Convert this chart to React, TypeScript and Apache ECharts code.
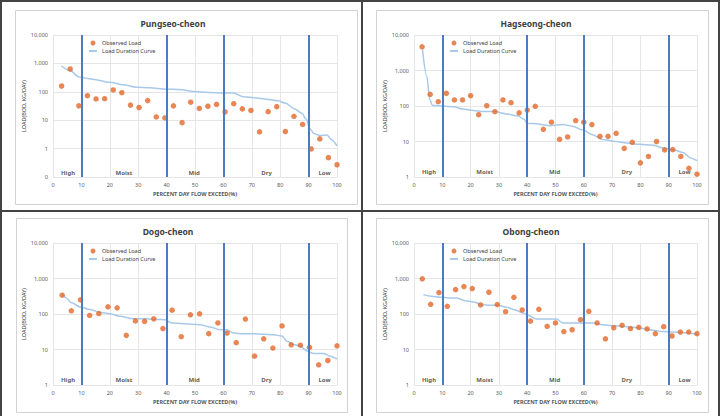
import React, { useEffect, useRef } from "react";
import * as echarts from "echarts";

// Station names, one panel each
const stations = ["Pungseo-cheon", "Hagseong-cheon", "Dogo-cheon", "Obong-cheon"];

// Flow-regime boundaries (percent of days flow exceeded) and regime labels
const flowBreaks = [10, 40, 60, 90];
const zoneNames = ["High", "Moist", "Mid", "Dry", "Low"];
const zoneCenters = [5.3, 25, 49.7, 75.2, 95.6];

// Observed BOD loads (kg/day), ranked by flow exceedance
const pungseoObserved = [160, 635, 32, 73, 56, 57, 116, 93, 34, 28, 49, 13, 12, 32, 8.2, 43, 26, 31, 36, 19.5, 38, 25, 22, 3.9, 20, 30, 4.0, 13.7, 7.1, 0.97, 2.2, 0.48, 0.27];
const hagseongObserved = [4650, 213, 132, 227, 148, 148, 195, 57, 102, 69, 148, 124, 64, 77, 98, 22, 35, 11.5, 13.4, 39, 35, 30, 14, 14, 17, 6.4, 9.5, 2.5, 3.8, 10, 5.8, 5.9, 3.8, 1.75, 1.2];
const dogoObserved = [338, 123, 250, 91, 103, 159, 149, 25, 64, 62, 73, 39, 128, 23, 95, 101, 28, 56, 29, 15.5, 72, 6.5, 20, 11, 46, 13.6, 13.2, 11.5, 3.7, 4.9, 12.7];
const obongObserved = [980, 188, 402, 165, 488, 594, 521, 180, 410, 184, 116, 296, 130, 63, 136, 45, 56, 32, 36, 69, 119, 56, 20, 41, 48, 39, 42, 38, 28, 44, 24, 31, 31, 28];

// Load duration curves: [percent exceeded, load kg/day]
const pungseoCurve = [[3, 810], [6, 560], [9, 340], [10, 318], [14, 278], [20, 215], [24.7, 176], [29.4, 146], [34, 140], [40, 124], [44.7, 120], [49.4, 102], [55, 95], [60, 91], [63.5, 90], [67, 67], [71.7, 61], [75.2, 55], [79.3, 48], [81.7, 40], [85.2, 25], [87.6, 17.5], [89.1, 11], [90.5, 5], [92, 3.3], [94, 2.9], [96.5, 3.0], [98, 2.1], [100, 1.25]];
const hagseongCurve = [[3, 3860], [4.5, 700], [5.6, 150], [6.5, 104], [7.5, 104], [10.3, 100], [13.9, 95], [17.4, 82], [21, 75], [24.4, 70], [28.5, 70], [32.7, 60], [36.8, 52], [38.9, 42], [40, 32], [42, 32], [48, 28], [52.6, 30], [56, 27], [59.7, 21], [63, 15.6], [66.7, 11.3], [71.4, 10], [75, 9], [79.7, 8.3], [84.4, 7.9], [88, 6.6], [91.4, 5.9], [95, 4.9], [97.9, 3.4], [100, 2.9]];
const dogoCurve = [[3.3, 369], [4.7, 284], [6.5, 206], [9.8, 156], [12.9, 134], [16.5, 112], [20, 101], [23.5, 87], [28.2, 73], [33, 73], [36.5, 70], [39.4, 69], [41.8, 56], [45.9, 53], [51.8, 50], [55.3, 43], [58.8, 36], [61.2, 36], [63.5, 29], [65.9, 28], [70.6, 28], [74.1, 27], [77.6, 26], [80.6, 24], [82.4, 17], [84.7, 13.8], [87, 12.6], [89.4, 9], [91.8, 7.7], [95.3, 7.7], [97.6, 6.5], [100, 5.4]];
const obongCurve = [[3.3, 352], [6.2, 316], [9.2, 296], [12.7, 283], [15, 283], [18, 238], [21, 218], [23.9, 184], [26.8, 176], [29.7, 176], [32.7, 155], [35.6, 132], [38.5, 107], [40.3, 92], [43.2, 72], [46.2, 72], [50.3, 72], [52.6, 56], [56.2, 56], [59.7, 56], [63.2, 56], [66.7, 50], [70.2, 47], [73.8, 45], [77.3, 42], [80.8, 39], [84.4, 35], [87.9, 32], [91.4, 31], [95, 30], [100, 27]];

const FONT = "'Noto Sans', 'Open Sans', sans-serif";

const panels = [
  { title: stations[0], observed: pungseoObserved, curve: pungseoCurve, yMin: 0.1, grid: { left: 53, top: 35, width: 284, height: 142 }, box: [15, 10, 342, 194], titleAt: [173, 23], legendAt: [88, 40] },
  { title: stations[1], observed: hagseongObserved, curve: hagseongCurve, yMin: 1, grid: { left: 414, top: 35, width: 283, height: 142 }, box: [376, 10, 332, 194], titleAt: [536, 23], legendAt: [449, 40] },
  { title: stations[2], observed: dogoObserved, curve: dogoCurve, yMin: 1, grid: { left: 53, top: 243, width: 284, height: 142 }, box: [16, 218, 331, 194], titleAt: [168, 231], legendAt: [88, 248] },
  { title: stations[3], observed: obongObserved, curve: obongCurve, yMin: 1, grid: { left: 414, top: 243, width: 283, height: 142 }, box: [376, 218, 332, 194], titleAt: [531, 231], legendAt: [449, 248] },
];

function buildOption() {
  const series: any[] = [];
  panels.forEach((p, i) => {
    const n = p.observed.length;
    series.push({
      name: "Observed Load",
      type: "scatter",
      xAxisIndex: i,
      yAxisIndex: i,
      data: p.observed.map((v, k) => [(100 * (k + 1)) / n, v]),
      symbol: "circle",
      symbolSize: 5.5,
      itemStyle: { color: "#E2692A" },
      z: 4,
      markLine: {
        silent: true,
        symbol: "none",
        label: { show: false },
        lineStyle: { color: "#4A7CC0", width: 2, type: "solid" },
        data: flowBreaks.map((x) => ({ xAxis: x })),
      },
    });
    series.push({
      name: "Load Duration Curve",
      type: "line",
      xAxisIndex: i,
      yAxisIndex: i,
      data: p.curve,
      symbol: "none",
      smooth: 0.3,
      smoothMonotone: "x",
      lineStyle: { color: "#A8C9E9", width: 1.5 },
      z: 3,
    });
    series.push({
      name: "zones",
      type: "scatter",
      xAxisIndex: i,
      yAxisIndex: i,
      silent: true,
      symbolSize: 0,
      data: zoneCenters.map((x, k) => [x, p.yMin * 1.42, zoneNames[k]]),
      label: {
        show: true,
        position: "inside",
        formatter: (d: any) => d.value[2],
        fontSize: 6,
        fontWeight: "bold",
        color: "#333333",
        fontFamily: FONT,
      },
      z: 5,
    });
  });

  const graphic: any[] = [];
  panels.forEach((p) => {
    graphic.push({
      type: "rect",
      shape: { x: p.box[0] + 0.5, y: p.box[1] + 0.5, width: p.box[2], height: p.box[3] },
      style: { fill: "none", stroke: "#d2d2d2", lineWidth: 1 },
      silent: true,
    });
    graphic.push({
      type: "text",
      x: p.titleAt[0],
      y: p.titleAt[1],
      style: {
        text: p.title,
        textAlign: "center",
        textVerticalAlign: "middle",
        font: `bold 8.5px ${FONT}`,
        fill: "#404040",
      },
      silent: true,
    });
  });
  const frame = { stroke: "#444444", lineWidth: 2 };
  graphic.push(
    { type: "line", shape: { x1: 1, y1: 0, x2: 1, y2: 416 }, style: frame, silent: true },
    { type: "line", shape: { x1: 0, y1: 1, x2: 720, y2: 1 }, style: frame, silent: true },
    { type: "line", shape: { x1: 719, y1: 0, x2: 719, y2: 416 }, style: frame, silent: true },
    { type: "line", shape: { x1: 362, y1: 0, x2: 362, y2: 416 }, style: frame, silent: true },
    { type: "line", shape: { x1: 0, y1: 211, x2: 720, y2: 211 }, style: frame, silent: true }
  );

  return {
    animation: false,
    backgroundColor: "#ffffff",
    textStyle: { fontFamily: FONT },
    grid: panels.map((p) => ({ ...p.grid, containLabel: false })),
    legend: panels.map((p) => ({
      data: [
        { name: "Observed Load", icon: "circle" },
        { name: "Load Duration Curve", itemStyle: { color: "rgba(0,0,0,0)", opacity: 0, borderWidth: 0 } },
      ],
      orient: "vertical",
      left: p.legendAt[0],
      top: p.legendAt[1],
      padding: 0,
      itemWidth: 8,
      itemHeight: 5,
      itemGap: 2,
      itemTextGap: 4,
      selectedMode: false,
      textStyle: { fontSize: 5.5, color: "#404040", fontFamily: FONT },
    })),
    xAxis: panels.map((p, i) => ({
      type: "value",
      gridIndex: i,
      min: 0,
      max: 100,
      interval: 10,
      axisLine: { show: false },
      axisTick: { show: false },
      splitLine: { show: true, lineStyle: { color: "#e6e6e6", width: 1 } },
      axisLabel: { fontSize: 5.5, color: "#595959", margin: 5 },
      name: "PERCENT DAY FLOW EXCEED(%)",
      nameLocation: "middle",
      nameGap: 14,
      nameTextStyle: { fontSize: 5.5, color: "#595959", fontWeight: "bold" },
    })),
    yAxis: panels.map((p, i) => ({
      type: "log",
      logBase: 10,
      gridIndex: i,
      min: p.yMin,
      max: 10000,
      axisLine: { show: false },
      axisTick: { show: false },
      splitLine: { show: true, lineStyle: { color: "#e6e6e6", width: 1 } },
      axisLabel: {
        fontSize: 5.5,
        color: "#595959",
        margin: 5,
        formatter: (v: number) => (v < 1 ? "0" : Math.round(v).toLocaleString("en-US")),
      },
      name: "LOAD(BOD, KG/DAY)",
      nameLocation: "middle",
      nameGap: 25,
      nameTextStyle: { fontSize: 5.5, color: "#404040" },
    })),
    series,
    graphic,
  };
}

export default function App() {
  const ref = useRef<HTMLDivElement>(null);
  useEffect(() => {
    if (!ref.current) return;
    const chart = echarts.init(ref.current, undefined, { renderer: "svg" });
    chart.setOption(buildOption() as any);
    return () => chart.dispose();
  }, []);
  return (
    <div
      ref={ref}
      style={{ position: "absolute", left: 0, top: 0, width: 726, height: 416, background: "#ffffff" }}
    />
  );
}
